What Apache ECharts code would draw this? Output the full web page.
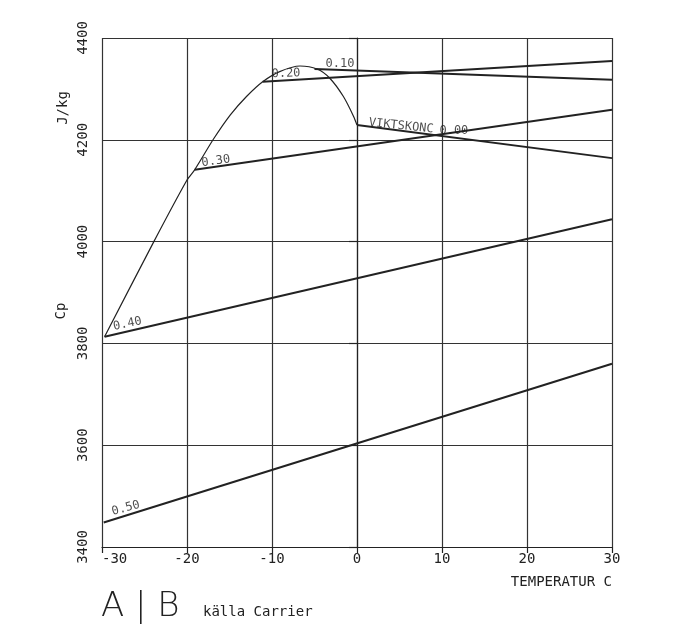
<!DOCTYPE html>
<html>
<head>
<meta charset="utf-8">
<script src="https://cdn.jsdelivr.net/npm/echarts@6/dist/echarts.min.js"></script>
<style>
html,body{margin:0;padding:0;background:#ffffff;}
#c{width:700px;height:636px;}
</style>
</head>
<body>
<div id="c"></div>
<script>
// ---- data ----
const xTicks = [-30, -20, -10, 0, 10, 20, 30];
const yTicks = [3400, 3600, 3800, 4000, 4200, 4400];
const conc50 = [[-29.8, 3448], [30, 3760]];
const conc40 = [[-29.7, 3813], [30, 4044]];
const conc30 = [[-19.1, 4141], [30, 4259]];
const conc20 = [[-11.1, 4314], [30, 4355]];
const conc10 = [[-5.0, 4339], [30, 4318]];
const conc00 = [[0, 4229], [30, 4164]];
const freezeCurve = [
  [-29.7, 3813], [-23.9, 4000], [-20, 4121], [-19.1, 4141], [-16.9, 4201],
  [-14.9, 4249], [-13.0, 4285], [-11.1, 4314], [-9.1, 4334], [-6.7, 4345],
  [-4.7, 4339], [-3.2, 4321], [-1.6, 4285], [-0.4, 4246], [0, 4229]
];
const labelTexts = ['0.50', '0.40', '0.30', '0.20', '0.10', 'VIKTSKONC', '0.00'];
const labelAt = [[-27.2, 3476], [-27.0, 3838], [-16.6, 4158], [-8.35, 4330], [-2.0, 4350], [5.2, 4227], [11.4, 4218]];
const labelRot = [15, 12, 8, 2, 0, -6, 0];

const FONT = '"DejaVu Sans Mono", monospace';
const INK = '#222';

const chart = echarts.init(document.getElementById('c'), null, {renderer: 'canvas'});

function lineSeries(d, w) {
  return {
    type: 'line', data: d, showSymbol: false, symbol: 'none',
    lineStyle: {color: INK, width: w}, silent: true, z: 3
  };
}

const option = {
  backgroundColor: '#ffffff',
  animation: false,
  grid: {left: 102, right: 88, top: 38, bottom: 89, containLabel: false},
  xAxis: {
    type: 'value', min: -30, max: 30, interval: 10,
    axisLine: {show: true, lineStyle: {color: INK, width: 1.2}},
    axisTick: {show: true, length: 6, lineStyle: {color: INK, width: 1.2}},
    splitLine: {show: true, lineStyle: {color: '#333', width: 1.2}},
    axisLabel: {
      color: INK, fontFamily: FONT, fontSize: 14, margin: 5,
      alignMinLabel: 'left',
      formatter: v => String(v)
    }
  },
  yAxis: {
    type: 'value', min: 3400, max: 4400, interval: 200,
    axisLine: {show: true, lineStyle: {color: INK, width: 1.2}},
    axisTick: {show: true, length: 8, lineStyle: {color: INK, width: 1.2}},
    splitLine: {show: true, lineStyle: {color: '#333', width: 1.2}},
    axisLabel: {
      color: INK, fontFamily: FONT, fontSize: 14, margin: 12, rotate: 90,
      formatter: v => String(v)
    }
  },
  series: [
    lineSeries(conc50, 2),
    lineSeries(conc40, 2),
    lineSeries(conc30, 2),
    lineSeries(conc20, 2),
    lineSeries(conc10, 2),
    lineSeries(conc00, 2),
    Object.assign(lineSeries(freezeCurve, 1.2), {smooth: 0.25}),
    {
      type: 'scatter', symbolSize: 0, silent: true, z: 5,
      data: labelTexts.map((t, i) => ({
        value: labelAt[i], name: t,
        label: {rotate: labelRot[i]}
      })),
      label: {
        show: true, position: 'inside', formatter: p => p.name,
        color: INK, fontFamily: FONT, fontSize: 12
      }
    }
  ],
  graphic: [
    {type: 'text', x: 63, y: 108, rotation: Math.PI / 2,
      style: {text: 'J/kg', font: '14px ' + FONT, fill: INK, align: 'center', verticalAlign: 'middle'}},
    {type: 'text', x: 61, y: 311, rotation: Math.PI / 2,
      style: {text: 'Cp', font: '14px ' + FONT, fill: INK, align: 'center', verticalAlign: 'middle'}},
    {type: 'text', x: 612, y: 582,
      style: {text: 'TEMPERATUR C', font: '14px ' + FONT, fill: INK, align: 'right', verticalAlign: 'middle'}},
    {type: 'text', x: 101, y: 607,
      style: {text: 'A | B', font: '200 34px "DejaVu Sans", sans-serif', fill: INK, align: 'left', verticalAlign: 'middle'}},
    {type: 'text', x: 203, y: 612,
      style: {text: 'källa Carrier', font: '14px ' + FONT, fill: INK, align: 'left', verticalAlign: 'middle'}}
  ]
};
chart.setOption(option);
</script>
</body>
</html>
